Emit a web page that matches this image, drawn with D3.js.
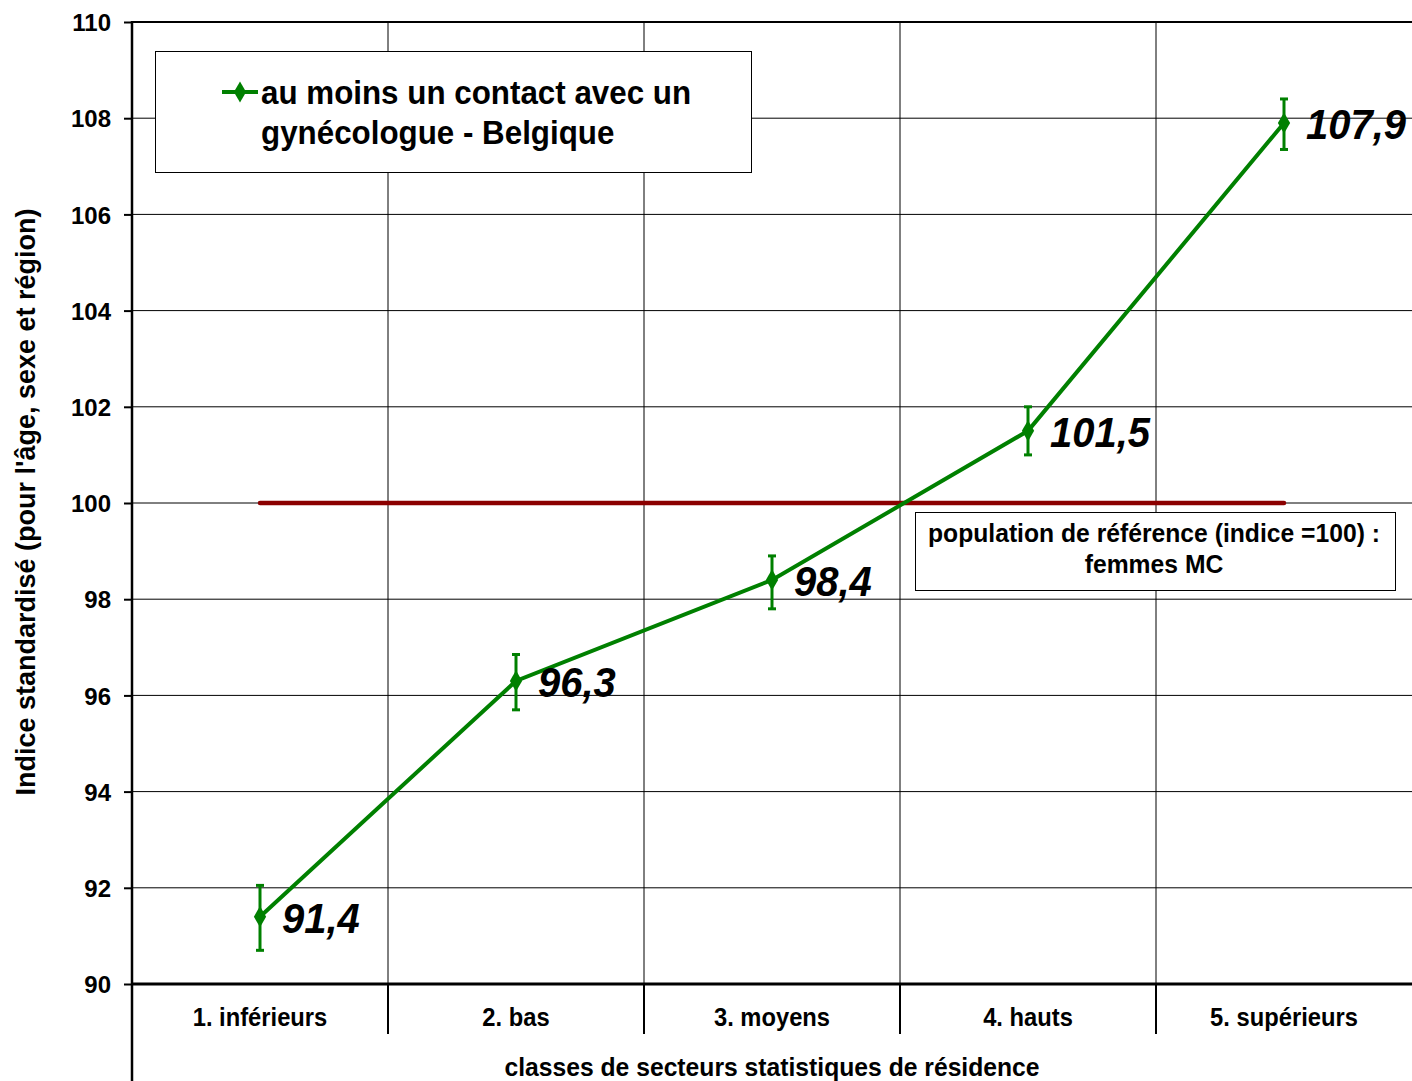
<!DOCTYPE html>
<html><head><meta charset="utf-8">
<script src="https://cdn.jsdelivr.net/npm/d3@7"></script>
<style>
body{margin:0;background:#fff;}
text{font-family:"Liberation Sans",Arial,sans-serif;font-weight:bold;}
</style></head>
<body><svg id="c" width="1412" height="1081"></svg>
<script>
const categories = ["1. inférieurs","2. bas","3. moyens","4. hauts","5. supérieurs"];
const values = [91.4, 96.3, 98.4, 101.5, 107.9];
const errLow = [90.7, 95.7, 97.8, 101.0, 107.35];
const errHigh = [92.05, 96.85, 98.9, 102.0, 108.4];
const valueLabels = ["91,4","96,3","98,4","101,5","107,9"];
const yTicks = [90,92,94,96,98,100,102,104,106,108,110];
const refValue = 100;
const seriesName = ["au moins un contact avec un","gynécologue - Belgique"];
const refLabel = ["population de référence (indice =100) :","femmes MC"];

const svg = d3.select("#c");
const L=132, R=1412, T=22, B=984;
const x = d3.scaleBand().domain(categories).range([L,R]);
const y = d3.scaleLinear().domain([90,110]).range([B,T]);
const cx = d => x(d)+x.bandwidth()/2;
const green="#008000", dred="#8b0000";

function squeeze(sel, f){ sel.each(function(){const t=d3.select(this);const ax=+t.attr("x"), ay=+t.attr("y");t.attr("transform",`translate(${ax},${ay}) scale(${f},1) translate(${-ax},${-ay})`);}); }

// horizontal gridlines
svg.append("g").selectAll("line").data(yTicks.slice(1,-1)).join("line")
  .attr("x1",L).attr("x2",R).attr("y1",d=>y(d)).attr("y2",d=>y(d))
  .attr("stroke","#000").attr("stroke-width",1);
// vertical gridlines (band boundaries)
const bounds = categories.slice(1).map(c=>x(c));
svg.append("g").selectAll("line").data(bounds).join("line")
  .attr("x1",d=>d).attr("x2",d=>d).attr("y1",T).attr("y2",1034)
  .attr("stroke","#000").attr("stroke-width",1);
svg.append("g").selectAll("line").data(bounds).join("line")
  .attr("x1",d=>d).attr("x2",d=>d).attr("y1",B).attr("y2",1034)
  .attr("stroke","#000").attr("stroke-width",2);
// top border
svg.append("line").attr("x1",L).attr("x2",R).attr("y1",T).attr("y2",T).attr("stroke","#000").attr("stroke-width",2);
// y axis
const yAxis = svg.append("g").attr("transform",`translate(${L},0)`)
  .call(d3.axisLeft(y).tickValues(yTicks).tickSize(8).tickPadding(13).tickFormat(d3.format("d")));
yAxis.select(".domain").remove();
yAxis.selectAll(".tick line").attr("stroke","#000").attr("stroke-width",2);
yAxis.selectAll(".tick text").attr("font-size",24).attr("font-family","Liberation Sans").attr("font-weight","bold").attr("fill","#000").attr("dy","0.36em");
svg.append("line").attr("x1",L).attr("x2",L).attr("y1",T-1).attr("y2",1081).attr("stroke","#000").attr("stroke-width",2.5);
// x axis line
svg.append("line").attr("x1",L).attr("x2",R).attr("y1",B).attr("y2",B).attr("stroke","#000").attr("stroke-width",3);
// x labels
svg.append("g").selectAll("text").data(categories).join("text")
  .attr("x",d=>cx(d)).attr("y",1026).attr("text-anchor","middle").attr("font-size",25).text(d=>d)
  .call(squeeze,0.95);
svg.append("text").attr("x",772).attr("y",1076).attr("text-anchor","middle").attr("font-size",26)
  .text("classes de secteurs statistiques de résidence").call(squeeze,0.95);
svg.append("text").attr("transform","translate(35,502) rotate(-90)").attr("text-anchor","middle").attr("font-size",27)
  .text("Indice standardisé (pour l'âge, sexe et région)");

// reference line
svg.append("line").attr("x1",cx(categories[0])).attr("x2",cx(categories[4])).attr("y1",y(refValue)).attr("y2",y(refValue))
  .attr("stroke",dred).attr("stroke-width",4.5).attr("stroke-linecap","round");

// series line
const data = categories.map((c,i)=>({c,v:values[i],lo:errLow[i],hi:errHigh[i],lab:valueLabels[i]}));
svg.append("path").datum(data).attr("fill","none").attr("stroke",green).attr("stroke-width",4)
  .attr("d",d3.line().x(d=>cx(d.c)).y(d=>y(d.v)));
// error bars
const eb = svg.append("g").selectAll("g").data(data).join("g");
eb.append("line").attr("x1",d=>cx(d.c)).attr("x2",d=>cx(d.c)).attr("y1",d=>y(d.lo)).attr("y2",d=>y(d.hi)).attr("stroke",green).attr("stroke-width",3);
eb.append("line").attr("x1",d=>cx(d.c)-4).attr("x2",d=>cx(d.c)+4).attr("y1",d=>y(d.lo)).attr("y2",d=>y(d.lo)).attr("stroke",green).attr("stroke-width",3);
eb.append("line").attr("x1",d=>cx(d.c)-4).attr("x2",d=>cx(d.c)+4).attr("y1",d=>y(d.hi)).attr("y2",d=>y(d.hi)).attr("stroke",green).attr("stroke-width",3);
// diamond markers
svg.append("g").selectAll("path").data(data).join("path")
  .attr("transform",d=>`translate(${cx(d.c)},${y(d.v)})`)
  .attr("d",d3.symbol(d3.symbolDiamond,130)).attr("fill",green);
// value labels
svg.append("g").selectAll("text").data(data).join("text")
  .attr("x",d=>cx(d.c)+22).attr("y",d=>y(d.v)+16).attr("font-size",43).attr("font-style","italic").attr("fill","#000")
  .text(d=>d.lab).call(squeeze,0.93);

// legend box
svg.append("rect").attr("x",155.5).attr("y",51.5).attr("width",596).attr("height",121).attr("fill","#fff").attr("stroke","#000").attr("stroke-width",1);
svg.append("line").attr("x1",222).attr("x2",258).attr("y1",92).attr("y2",92).attr("stroke",green).attr("stroke-width",4);
svg.append("path").attr("transform","translate(240,92)").attr("d",d3.symbol(d3.symbolDiamond,130)).attr("fill",green);
svg.append("g").selectAll("text").data(seriesName).join("text")
  .attr("x",261).attr("y",(d,i)=>104+i*40).attr("font-size",33).text(d=>d).call(squeeze,0.95);

// ref label box
svg.append("rect").attr("x",915.5).attr("y",512.5).attr("width",480).attr("height",78).attr("fill","#fff").attr("stroke","#000").attr("stroke-width",1);
svg.append("g").selectAll("text").data(refLabel).join("text")
  .attr("x",1154).attr("y",(d,i)=>542+i*31).attr("text-anchor","middle").attr("font-size",26).text(d=>d).call(squeeze,0.95);
</script></body></html>
